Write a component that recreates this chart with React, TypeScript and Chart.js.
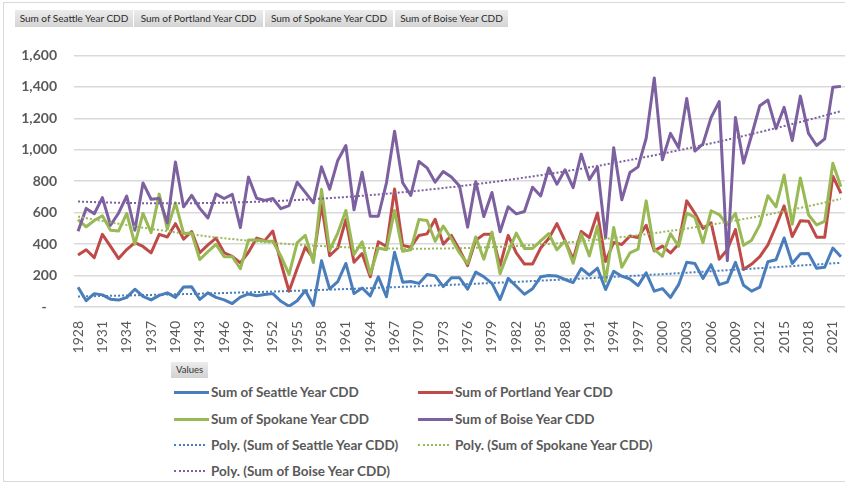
import React, { useEffect, useRef } from "react";
import { Chart, registerables } from "chart.js";

Chart.register(...registerables);

const years = [
  "1928","1929","1930","1931","1932","1933","1934","1935","1936","1937",
  "1938","1939","1940","1941","1942","1943","1944","1945","1946","1947",
  "1948","1949","1950","1951","1952","1953","1954","1955","1956","1957",
  "1958","1959","1960","1961","1962","1963","1964","1965","1966","1967",
  "1968","1969","1970","1971","1972","1973","1974","1975","1976","1977",
  "1978","1979","1980","1981","1982","1983","1984","1985","1986","1987",
  "1988","1989","1990","1991","1992","1993","1994","1995","1996","1997",
  "1998","1999","2000","2001","2002","2003","2004","2005","2006","2007",
  "2008","2009","2010","2011","2012","2013","2014","2015","2016","2017",
  "2018","2019","2020","2021","2022",
];

const seattle = [
  125, 40, 85, 77, 50, 44, 61, 113, 68, 45,
  74, 90, 61, 127, 128, 48, 90, 61, 45, 22,
  63, 83, 72, 79, 85, 36, 5, 40, 105, 10,
  294, 115, 162, 277, 85, 121, 71, 192, 65, 348,
  158, 162, 150, 207, 198, 130, 186, 186, 113, 222,
  192, 150, 48, 182, 132, 81, 116, 192, 200, 197,
  175, 155, 245, 203, 247, 111, 227, 196, 178, 136,
  217, 101, 117, 61, 142, 284, 277, 182, 269, 142,
  158, 284, 138, 101, 126, 288, 300, 439, 277, 338,
  340, 247, 253, 375, 320,
];

const portland = [
  330, 364, 314, 462, 385, 308, 365, 410, 385, 344,
  462, 445, 530, 432, 480, 345, 395, 438, 345, 322,
  281, 348, 438, 422, 483, 280, 100, 245, 380, 310,
  650, 326, 375, 556, 284, 340, 192, 415, 385, 750,
  392, 380, 455, 465, 558, 400, 455, 364, 263, 425,
  462, 462, 263, 455, 344, 273, 273, 375, 435, 530,
  420, 304, 480, 442, 598, 290, 410, 398, 452, 442,
  520, 357, 387, 344, 400, 675, 596, 500, 536, 304,
  364, 493, 238, 273, 320, 395, 515, 643, 448, 548,
  546, 444, 444, 832, 722,
];

const spokane = [
  556, 510, 550, 580, 488, 484, 595, 400, 595, 472,
  718, 495, 662, 468, 470, 302, 352, 398, 320, 320,
  243, 426, 426, 420, 418, 323, 207, 410, 455, 283,
  748, 360, 470, 614, 334, 415, 210, 375, 364, 614,
  354, 364, 556, 550, 418, 515, 434, 344, 276, 445,
  304, 476, 212, 349, 470, 372, 372, 420, 467, 364,
  420, 278, 465, 325, 515, 162, 505, 253, 344, 368,
  675, 366, 322, 466, 386, 597, 572, 409, 612, 588,
  523, 595, 392, 425, 523, 708, 637, 839, 526, 821,
  587, 522, 544, 914, 764,
];

const boise = [
  481, 627, 593, 696, 520, 598, 706, 488, 789, 685,
  690, 536, 922, 637, 710, 627, 566, 718, 690, 716,
  505, 826, 692, 678, 690, 625, 645, 793, 729, 662,
  891, 749, 932, 1027, 618, 857, 577, 577, 790, 1118,
  790, 709, 925, 885, 794, 862, 827, 769, 508, 797,
  575, 728, 479, 637, 592, 607, 762, 706, 884, 781,
  873, 759, 972, 810, 891, 440, 1013, 682, 855, 891,
  1073, 1457, 936, 1104, 1013, 1326, 992, 1037, 1205, 1306,
  294, 1205, 915, 1094, 1280, 1316, 1134, 1270, 1059, 1341,
  1104, 1027, 1069, 1397, 1403,
];

const yTicks = [0, 200, 400, 600, 800, 1000, 1200, 1400, 1600];
const pivotButtons = [
  "Sum of Seattle Year CDD",
  "Sum of Portland Year CDD",
  "Sum of Spokane Year CDD",
  "Sum of Boise Year CDD",
];

const BLUE = "#4A7EBB";
const RED = "#BE4B48";
const GREEN = "#98B954";
const PURPLE = "#7D60A0";

// Least-squares order-2 polynomial trendline (as Excel's "Poly." trendline)
function polyTrend(values: number[]): number[] {
  const n = values.length;
  let s0 = 0, s1 = 0, s2 = 0, s3 = 0, s4 = 0, t0 = 0, t1 = 0, t2 = 0;
  for (let i = 0; i < n; i++) {
    const x = (i + 1) / n;
    const y = values[i];
    s0 += 1; s1 += x; s2 += x * x; s3 += x * x * x; s4 += x * x * x * x;
    t0 += y; t1 += x * y; t2 += x * x * y;
  }
  const A = [
    [s0, s1, s2, t0],
    [s1, s2, s3, t1],
    [s2, s3, s4, t2],
  ];
  for (let c = 0; c < 3; c++) {
    for (let r = c + 1; r < 3; r++) {
      const f = A[r][c] / A[c][c];
      for (let k = c; k < 4; k++) A[r][k] -= f * A[c][k];
    }
  }
  const coef = [0, 0, 0];
  for (let r = 2; r >= 0; r--) {
    let s = A[r][3];
    for (let k = r + 1; k < 3; k++) s -= A[r][k] * coef[k];
    coef[r] = s / A[r][r];
  }
  return values.map((_, i) => {
    const x = (i + 1) / n;
    return coef[0] + coef[1] * x + coef[2] * x * x;
  });
}

const FONT = "Lato, 'Open Sans', sans-serif";

export default function App() {
  const ref = useRef<HTMLCanvasElement | null>(null);

  useEffect(() => {
    if (!ref.current) return;
    const line = (label: string, data: number[], color: string, order: number) => ({
      label,
      data,
      borderColor: color,
      backgroundColor: color,
      borderWidth: 3,
      pointRadius: 0,
      tension: 0,
      fill: false,
      borderJoinStyle: "round" as const,
      order,
    });
    const trend = (label: string, data: number[], color: string) => ({
      label,
      data: polyTrend(data),
      borderColor: color,
      borderWidth: 2,
      borderDash: [2, 2],
      pointRadius: 0,
      tension: 0,
      fill: false,
      order: 0,
    });
    const chart = new Chart(ref.current, {
      type: "line",
      data: {
        labels: years,
        datasets: [
          line("Sum of Seattle Year CDD", seattle, BLUE, 4),
          line("Sum of Portland Year CDD", portland, RED, 3),
          line("Sum of Spokane Year CDD", spokane, GREEN, 2),
          line("Sum of Boise Year CDD", boise, PURPLE, 1),
          trend("Poly. (Sum of Seattle Year CDD)", seattle, BLUE),
          trend("Poly. (Sum of Spokane Year CDD)", spokane, GREEN),
          trend("Poly. (Sum of Boise Year CDD)", boise, PURPLE),
        ],
      },
      options: {
        animation: false,
        responsive: false,
        devicePixelRatio: 1,
        layout: { padding: { top: 13, left: 0, right: 0, bottom: 0 } },
        plugins: { legend: { display: false }, tooltip: { enabled: false } },
        scales: {
          x: {
            type: "category",
            offset: true,
            grid: { display: false },
            border: { display: false },
            ticks: {
              autoSkip: false,
              maxRotation: 90,
              minRotation: 90,
              padding: 6,
              color: "#595959",
              font: { family: FONT, size: 14 },
              callback: (_v: any, i: number) => (i % 3 === 0 ? years[i] : ""),
            },
            afterFit: (s: any) => {
              s.height = 53;
              s.paddingLeft = 0;
              s.paddingRight = 0;
            },
          },
          y: {
            min: yTicks[0],
            max: yTicks[yTicks.length - 1],
            border: { display: false },
            grid: { color: "#D9D9D9", lineWidth: 1.5, drawTicks: false },
            afterBuildTicks: (s: any) => {
              s.ticks = yTicks.map((v) => ({ value: v }));
            },
            ticks: {
              padding: 17,
              color: "#595959",
              font: { family: FONT, size: 14, weight: "bold" },
              callback: (v: any) => (v === 0 ? "-   " : Number(v).toLocaleString("en-US")),
            },
            afterFit: (s: any) => {
              s.width = 74;
            },
          },
        },
      },
    } as any);
    return () => chart.destroy();
  }, []);

  const btnPos = [
    [15, 118],
    [134, 129],
    [265, 128],
    [395, 113],
  ];

  const legendItems = [
    { label: "Sum of Seattle Year CDD", color: BLUE, dotted: false, col: 0, row: 0 },
    { label: "Sum of Portland Year CDD", color: RED, dotted: false, col: 1, row: 0 },
    { label: "Sum of Spokane Year CDD", color: GREEN, dotted: false, col: 0, row: 1 },
    { label: "Sum of Boise Year CDD", color: PURPLE, dotted: false, col: 1, row: 1 },
    { label: "Poly. (Sum of Seattle Year CDD)", color: BLUE, dotted: true, col: 0, row: 2 },
    { label: "Poly. (Sum of Spokane Year CDD)", color: GREEN, dotted: true, col: 1, row: 2 },
    { label: "Poly. (Sum of Boise Year CDD)", color: PURPLE, dotted: true, col: 0, row: 3 },
  ];
  const colX = [174, 418];
  const rowY = [392, 419, 445, 471];

  return (
    <div
      style={{
        position: "fixed",
        left: 0,
        top: 0,
        width: 845,
        height: 487,
        background: "#fff",
        overflow: "hidden",
        fontFamily: FONT,
      }}
    >
      <div
        style={{
          position: "absolute",
          left: 3,
          top: 2,
          width: 860,
          height: 478,
          borderLeft: "1px solid #D9D9D9",
          borderTop: "1px solid #D9D9D9",
          borderBottom: "1px solid #D9D9D9",
        }}
      />
      {pivotButtons.map((t, i) => (
        <div
          key={t}
          style={{
            position: "absolute",
            left: btnPos[i][0],
            top: 10,
            width: btnPos[i][1],
            height: 17,
            background: "linear-gradient(#ececec, #d4d4d4)",
            color: "#2b2b2b",
            fontSize: 10,
            lineHeight: "17px",
            textAlign: "center",
            whiteSpace: "nowrap",
          }}
        >
          {t}
        </div>
      ))}
      <canvas
        ref={ref}
        width={845}
        height={330}
        style={{ position: "absolute", left: 0, top: 30, width: 845, height: 330 }}
      />
      <div
        style={{
          position: "absolute",
          left: 171,
          top: 362,
          width: 37,
          height: 16,
          background: "linear-gradient(#ececec, #d2d2d2)",
          color: "#333",
          fontSize: 9.5,
          lineHeight: "16px",
          textAlign: "center",
        }}
      >
        Values
      </div>
      {legendItems.map((it) => {
        const x = colX[it.col];
        const y = rowY[it.row];
        return (
          <React.Fragment key={it.label}>
            {it.dotted ? (
              <div
                style={{
                  position: "absolute",
                  left: x,
                  top: y - 1,
                  width: 31,
                  height: 0,
                  borderTop: `2px dotted ${it.color}`,
                }}
              />
            ) : (
              <div
                style={{
                  position: "absolute",
                  left: x,
                  top: y - 1.5,
                  width: 35,
                  height: 3,
                  background: it.color,
                }}
              />
            )}
            <div
              style={{
                position: "absolute",
                left: x + 37,
                top: y - 9,
                height: 18,
                lineHeight: "18px",
                fontSize: 13.5,
                fontWeight: "bold",
                color: "#595959",
                whiteSpace: "nowrap",
              }}
            >
              {it.label}
            </div>
          </React.Fragment>
        );
      })}
    </div>
  );
}
